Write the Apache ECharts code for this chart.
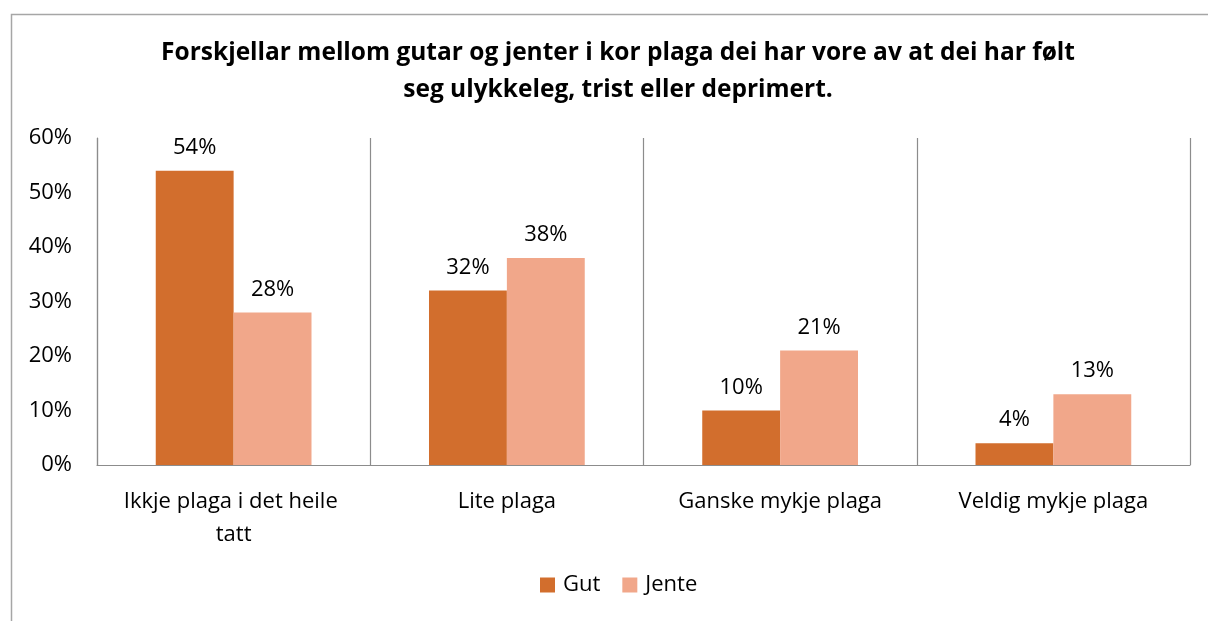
<!DOCTYPE html>
<html>
<head>
<meta charset="utf-8">
<script src="https://cdn.jsdelivr.net/npm/echarts@6/dist/echarts.min.js"></script>
<style>
  html, body { margin: 0; padding: 0; background: #fff; }
  #chart { width: 1208px; height: 621px; }
</style>
</head>
<body>
<div id="chart"></div>
<script>
// Categories and shares (percent) for each group
const categories = ['Ikkje plaga i det heile tatt', 'Lite plaga', 'Ganske mykje plaga', 'Veldig mykje plaga'];
const gut = [54, 32, 10, 4];
const jente = [28, 38, 21, 13];
const yTicks = [0, 10, 20, 30, 40, 50, 60];

const FONT = '"Open Sans", "Noto Sans", sans-serif';
const SIZE = 22;
const chart = echarts.init(document.getElementById('chart'));

const labelStyle = {
  show: true,
  position: 'top',
  distance: 12,
  fontFamily: FONT,
  fontSize: SIZE,
  color: '#000',
  formatter: p => p.value + '%'
};

chart.setOption({
  animation: false,
  backgroundColor: '#fff',
  title: {
    text: 'Forskjellar mellom gutar og jenter i kor plaga dei har vore av at dei har følt\nseg ulykkeleg, trist eller deprimert.',
    left: 613,
    top: 30,
    textAlign: 'center',
    textStyle: {
      fontFamily: FONT,
      fontSize: 24.5,
      fontWeight: 'bold',
      color: '#000',
      lineHeight: 37
    }
  },
  graphic: [{
    type: 'rect',
    left: 9,
    top: 12,
    shape: { width: 1250, height: 700 },
    style: { fill: 'none', stroke: '#a6a6a6', lineWidth: 1.5 },
    silent: true
  }],
  legend: {
    bottom: 20,
    left: 535,
    itemWidth: 15,
    itemHeight: 15,
    itemGap: 22,
    icon: 'rect',
    textStyle: { fontFamily: FONT, fontSize: SIZE, color: '#000', padding: [0, 0, 0, 3] },
    data: ['Gut', 'Jente']
  },
  grid: { left: 97, right: 18, top: 138, bottom: 156 },
  xAxis: {
    type: 'category',
    data: categories,
    axisLine: { show: true, lineStyle: { color: '#8c8c8c', width: 1.2 } },
    axisTick: { show: false },
    splitLine: { show: true, lineStyle: { color: '#8c8c8c', width: 1.2 } },
    axisLabel: {
      interval: 0,
      margin: 20,
      fontFamily: FONT,
      fontSize: SIZE,
      color: '#000',
      lineHeight: 33,
      width: 245,
      overflow: 'break'
    }
  },
  yAxis: {
    type: 'value',
    min: yTicks[0],
    max: yTicks[yTicks.length - 1],
    interval: 10,
    axisLine: { show: true, lineStyle: { color: '#8c8c8c', width: 1.2 } },
    axisTick: { show: false },
    splitLine: { show: false },
    axisLabel: {
      margin: 25,
      fontFamily: FONT,
      fontSize: SIZE,
      color: '#000',
      formatter: v => v + '%'
    }
  },
  series: [
    {
      name: 'Gut',
      type: 'bar',
      data: gut,
      barWidth: '28.5%',
      barGap: '0%',
      itemStyle: { color: '#D26E2D' },
      label: labelStyle
    },
    {
      name: 'Jente',
      type: 'bar',
      data: jente,
      barWidth: '28.5%',
      barGap: '0%',
      itemStyle: { color: '#F1A78A' },
      label: labelStyle
    }
  ]
});
</script>
</body>
</html>
